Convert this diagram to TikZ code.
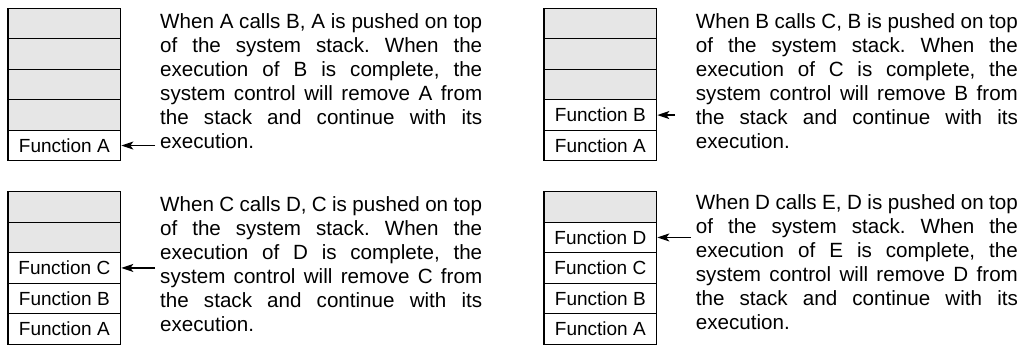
\documentclass[tikz,border=0pt]{standalone}
\usepackage{fontspec}
\setmainfont{Liberation Sans}
\usetikzlibrary{arrows.meta}
\definecolor{slotgray}{RGB}{230,230,230}
\newcommand{\jline}[1]{\makebox[\linewidth][s]{#1}\par}
\newcommand{\descbox}[6]{\parbox[t]{322pt}{\fontsize{20.6}{24}\selectfont\frenchspacing\parindent=0pt\parskip=0pt
\jline{#1}\jline{#2}\jline{#3}\jline{#4}\jline{#5}#6}}
\tikzset{
  slot/.style={draw, fill=slotgray, minimum width=112.7pt, minimum height=30.5pt, inner sep=0pt, line width=1.3pt},
  func/.style={slot, fill=white, font=\fontsize{19}{22}\selectfont},
  desc/.style={anchor=base west, inner sep=0pt},
  callarrow/.style={-{Stealth[length=12pt,width=8pt,inset=3pt]}, line width=1.3pt}
}
\begin{document}
\begin{tikzpicture}[x=1pt,y=-1pt]
\useasboundingbox (0,0) rectangle (1030,345);
% ---------- top left
\node[slot] (a1) at (64.35,23.55) {};
\node[slot] (a2) at (64.35,54.05) {};
\node[slot] (a3) at (64.35,84.55) {};
\node[slot] (a4) at (64.35,115.05) {};
\node[func] (a5) at (64.35,145.55) {Function A};
\node[desc] (ta) at (160,29) {\descbox{When A calls B, A is pushed on top}{of the system stack. When the}{execution of B is complete, the}{system control will remove A from}{the stack and continue with its}{execution.}};
\coordinate (pa) at (155,145.55);
\draw[callarrow] (pa) -- (a5.east);
% ---------- top right
\node[slot] (b1) at (600.35,23.55) {};
\node[slot] (b2) at (600.35,54.05) {};
\node[slot] (b3) at (600.35,84.55) {};
\node[func] (b4) at (600.35,115.05) {Function B};
\node[func] (b5) at (600.35,145.55) {Function A};
\node[desc] (tb) at (695.7,29) {\descbox{When B calls C, B is pushed on top}{of the system stack. When the}{execution of C is complete, the}{system control will remove B from}{the stack and continue with its}{execution.}};
\coordinate (pb) at (675,115.05);
\draw[callarrow] (pb) -- (b4.east);
% ---------- bottom left
\node[slot] (c1) at (64.35,206.95) {};
\node[slot] (c2) at (64.35,237.45) {};
\node[func] (c3) at (64.35,267.95) {Function C};
\node[func] (c4) at (64.35,298.45) {Function B};
\node[func] (c5) at (64.35,328.95) {Function A};
\node[desc] (tc) at (160,211) {\descbox{When C calls D, C is pushed on top}{of the system stack. When the}{execution of D is complete, the}{system control will remove C from}{the stack and continue with its}{execution.}};
\coordinate (pc) at (155,267.95);
\draw[callarrow] (pc) -- (c3.east);
% ---------- bottom right
\node[slot] (d1) at (600.35,206.95) {};
\node[func] (d2) at (600.35,237.45) {Function D};
\node[func] (d3) at (600.35,267.95) {Function C};
\node[func] (d4) at (600.35,298.45) {Function B};
\node[func] (d5) at (600.35,328.95) {Function A};
\node[desc] (td) at (695.7,209) {\descbox{When D calls E, D is pushed on top}{of the system stack. When the}{execution of E is complete, the}{system control will remove D from}{the stack and continue with its}{execution.}};
\coordinate (pd) at (691,237.45);
\draw[callarrow] (pd) -- (d2.east);
\end{tikzpicture}
\end{document}
